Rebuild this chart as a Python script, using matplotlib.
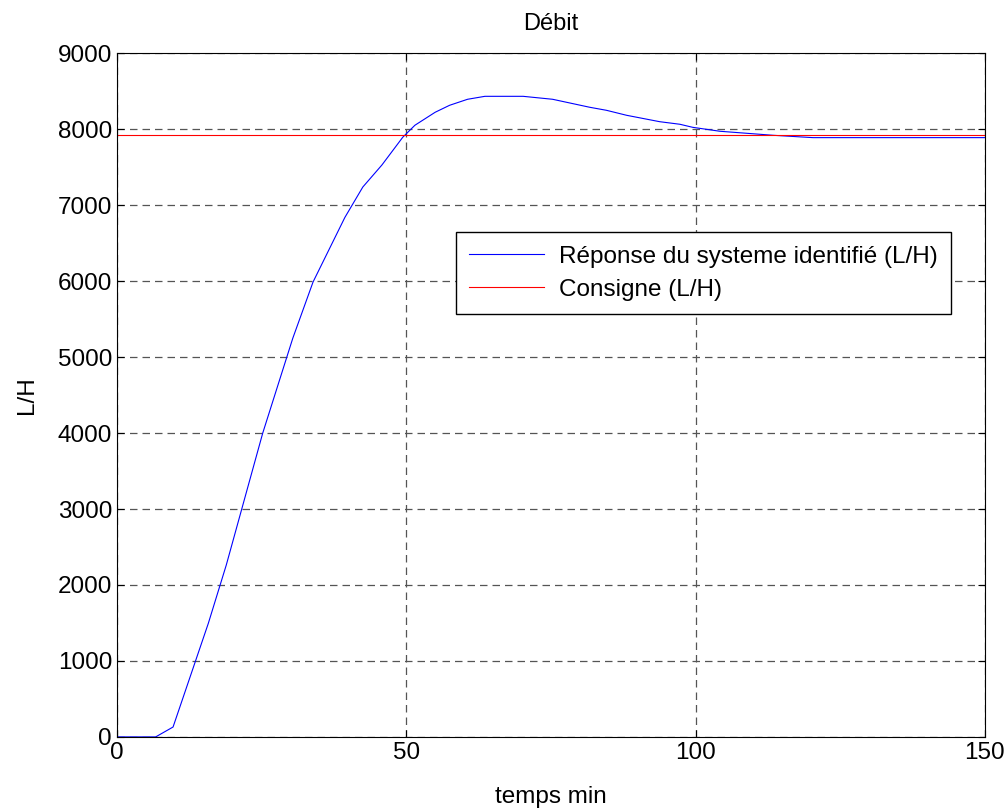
import matplotlib
matplotlib.use("Agg")
import matplotlib.pyplot as plt

plt.rcParams['font.family'] = ['Liberation Sans', 'DejaVu Sans']

# temps (min) et débit (L/H)
temps = [0, 6.7, 9.7, 15.8, 18.9, 25.2, 30.4, 33.9, 39.4, 42.5, 45.8,
         49.4, 51.5, 55, 57.5, 60.6, 63.6, 70.2, 75.3, 81.7, 84.6, 88.1,
         93.8, 97.3, 99.5, 104.2, 108.9, 113.4, 120.3, 150]
debit = [0, 0, 130, 1496, 2263, 4000, 5250, 5990, 6840, 7240, 7530,
         7895, 8053, 8224, 8316, 8395, 8434, 8434, 8395, 8290, 8250, 8184,
         8100, 8066, 8026, 7974, 7947, 7921, 7890, 7890]
consigne = 7920

fig = plt.figure(figsize=(10.08, 8.08), dpi=100)
ax = fig.add_axes([0.116, 0.088, 0.861, 0.846])

ax.plot(temps, debit, color='blue', linewidth=0.8,
        label='Réponse du systeme identifié (L/H)')
ax.axhline(consigne, color='red', linewidth=0.8, label='Consigne (L/H)')

ax.set_xlim(0, 150)
ax.set_ylim(0, 9000)
ax.set_xticks([0, 50, 100, 150])
ax.set_yticks(range(0, 9001, 1000))
ax.tick_params(direction='in', labelsize=17.5, length=5, top=True, right=True)
ax.grid(True, linestyle=(0, (6, 4)), color='#555555', linewidth=0.9)

ax.set_title('Débit', fontsize=17, pad=17)
ax.set_xlabel('temps min', fontsize=17.5, labelpad=16)
ax.set_ylabel('L/H', fontsize=17.5, labelpad=14)

leg = ax.legend(loc='upper right', bbox_to_anchor=(0.961, 0.738), fontsize=17.5,
                fancybox=False, framealpha=1, edgecolor='black',
                handlelength=3.1, handletextpad=0.6, borderaxespad=0,
                labelspacing=0.45, borderpad=0.55)
leg.get_frame().set_linewidth(1.0)

fig.savefig('out.png', dpi=100)
